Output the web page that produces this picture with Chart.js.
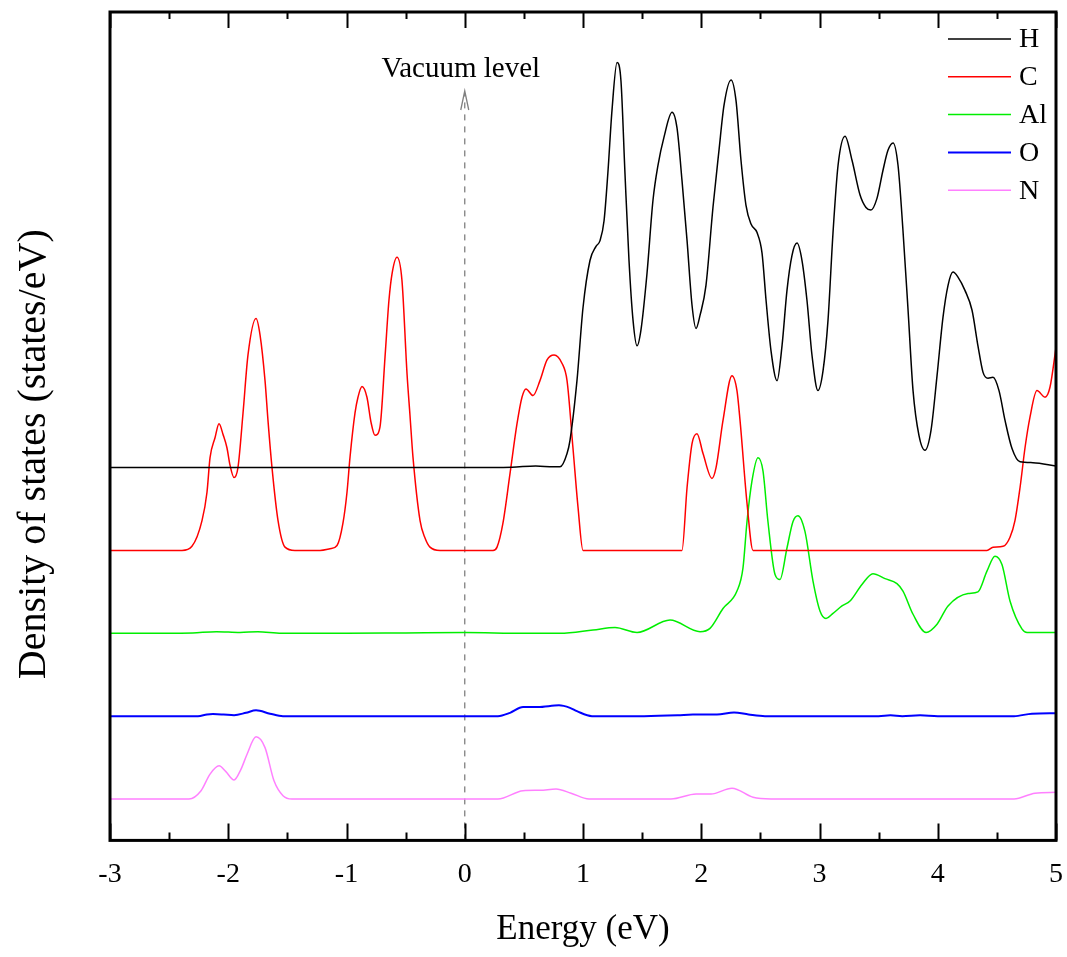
<!DOCTYPE html>
<html>
<head>
<meta charset="utf-8">
<script src="https://cdn.jsdelivr.net/npm/chart.js@4.4.1/dist/chart.umd.min.js"></script>
<style>
  html, body { margin: 0; padding: 0; background: #fff; }
</style>
</head>
<body>
<canvas id="dos" width="1067" height="957"></canvas>
<script>
// projected DOS per element, [energy (eV), states/eV]
const hDos = [[-3,0],[-2,0],[-1,0],[0,0],[0.4,0.005],[0.6,0.02],[0.75,0.01],[0.806,0.01],[0.865,0.17],[0.89,0.33],[0.949,1.05],[1.0,1.93],[1.059,2.5],[1.11,2.67],[1.144,2.74],[1.178,2.98],[1.21,3.55],[1.245,4.31],[1.288,4.89],[1.321,4.67],[1.355,3.55],[1.389,2.5],[1.423,1.78],[1.457,1.47],[1.49,1.66],[1.541,2.34],[1.592,3.23],[1.634,3.65],[1.685,3.99],[1.753,4.29],[1.795,4.1],[1.837,3.47],[1.88,2.74],[1.922,1.96],[1.956,1.68],[1.99,1.84],[2.04,2.2],[2.099,3.14],[2.15,3.83],[2.192,4.37],[2.252,4.68],[2.294,4.43],[2.336,3.71],[2.378,3.17],[2.421,2.94],[2.471,2.84],[2.514,2.59],[2.548,2.02],[2.59,1.41],[2.641,1.05],[2.683,1.47],[2.725,2.14],[2.767,2.56],[2.81,2.71],[2.852,2.5],[2.894,2.02],[2.937,1.35],[2.987,0.93],[3.03,1.17],[3.072,1.78],[3.114,2.83],[3.157,3.65],[3.216,4.0],[3.275,3.71],[3.343,3.29],[3.393,3.14],[3.435,3.11],[3.486,3.25],[3.537,3.59],[3.579,3.83],[3.622,3.92],[3.664,3.65],[3.706,2.86],[3.749,1.9],[3.791,0.93],[3.841,0.39],[3.892,0.21],[3.943,0.45],[3.994,1.11],[4.044,1.81],[4.087,2.2],[4.129,2.36],[4.171,2.3],[4.23,2.14],[4.29,1.9],[4.34,1.47],[4.383,1.15],[4.425,1.08],[4.467,1.09],[4.518,0.93],[4.569,0.57],[4.628,0.23],[4.696,0.07],[4.805,0.06],[5.0,0.02]];
const cDos = [[-3,0],[-2.391,0],[-2.307,0.05],[-2.222,0.36],[-2.18,0.7],[-2.154,1.12],[-2.112,1.36],[-2.078,1.53],[-2.044,1.4],[-2.011,1.24],[-1.985,1.03],[-1.951,0.88],[-1.918,1.0],[-1.875,1.66],[-1.833,2.36],[-1.765,2.8],[-1.731,2.6],[-1.689,2.05],[-1.664,1.57],[-1.63,1.0],[-1.579,0.36],[-1.52,0.04],[-1.436,0],[-1.224,0],[-1.14,0.02],[-1.08,0.06],[-1.03,0.33],[-0.996,0.7],[-0.97,1.13],[-0.928,1.66],[-0.903,1.85],[-0.869,1.98],[-0.827,1.85],[-0.793,1.55],[-0.759,1.39],[-0.717,1.49],[-0.674,2.34],[-0.641,3.02],[-0.615,3.34],[-0.573,3.54],[-0.531,3.26],[-0.488,2.13],[-0.463,1.63],[-0.438,1.13],[-0.378,0.36],[-0.336,0.15],[-0.294,0.04],[-0.209,0],[0.239,0],[0.273,0.04],[0.323,0.33],[0.383,0.93],[0.442,1.53],[0.484,1.85],[0.518,1.95],[0.577,1.87],[0.636,2.05],[0.696,2.3],[0.755,2.36],[0.822,2.26],[0.865,2.05],[0.915,1.24],[0.958,0.52],[1.0,0],[1.837,0],[1.88,0.76],[1.922,1.29],[1.964,1.41],[2.015,1.17],[2.091,0.87],[2.125,1.0],[2.184,1.57],[2.26,2.11],[2.302,1.93],[2.328,1.57],[2.387,0.57],[2.438,0],[4.416,0],[4.467,0.04],[4.552,0.05],[4.611,0.16],[4.653,0.36],[4.696,0.76],[4.738,1.24],[4.78,1.61],[4.839,1.93],[4.907,1.85],[4.949,1.97],[5.0,2.45]];
const alDos = [[-3,0],[-2.5,0],[-2.3,0.005],[-2.1,0.02],[-1.9,0.01],[-1.75,0.02],[-1.55,0],[-1,0],[-0.5,0.005],[0,0.01],[0.5,0],[0.806,0],[1.085,0.04],[1.271,0.07],[1.457,0.01],[1.736,0.16],[1.99,0.02],[2.074,0.06],[2.184,0.3],[2.302,0.51],[2.353,0.79],[2.387,1.35],[2.429,1.84],[2.48,2.12],[2.522,1.96],[2.564,1.35],[2.624,0.71],[2.666,0.65],[2.725,1.03],[2.776,1.35],[2.818,1.42],[2.877,1.23],[2.945,0.63],[3.004,0.27],[3.055,0.18],[3.114,0.24],[3.19,0.33],[3.258,0.39],[3.359,0.59],[3.452,0.72],[3.554,0.66],[3.655,0.6],[3.706,0.51],[3.791,0.23],[3.901,0.01],[3.994,0.11],[4.087,0.33],[4.256,0.48],[4.34,0.5],[4.416,0.75],[4.484,0.93],[4.543,0.83],[4.611,0.39],[4.713,0.05],[4.755,0.01],[5.0,0.01]];
const oDos = [[-3,0],[-2.256,0],[-2.18,0.02],[-2.129,0.025],[-2.04,0.02],[-1.951,0.012],[-1.85,0.04],[-1.765,0.07],[-1.647,0.03],[-1.537,0],[0.281,0],[0.383,0.04],[0.493,0.11],[0.619,0.11],[0.797,0.13],[0.89,0.1],[0.949,0.06],[1.076,0],[1.516,0],[1.8,0.01],[1.93,0.02],[2.133,0.02],[2.277,0.045],[2.4,0.02],[2.539,0],[3.5,0],[3.6,0.01],[3.7,0],[3.85,0.01],[4.0,0],[4.645,0],[4.797,0.03],[5.0,0.035]];
const nDos = [[-3,0],[-2.332,0],[-2.23,0.1],[-2.154,0.3],[-2.078,0.4],[-2.02,0.33],[-1.951,0.23],[-1.892,0.36],[-1.841,0.54],[-1.765,0.75],[-1.689,0.62],[-1.613,0.22],[-1.537,0.04],[-1.461,0],[0.281,0],[0.493,0.1],[0.636,0.105],[0.772,0.12],[0.899,0.07],[1.051,0],[1.744,0],[1.956,0.06],[2.082,0.06],[2.26,0.13],[2.438,0.02],[2.59,0],[4.645,0],[4.822,0.07],[5.0,0.08]];

const elements = ['H', 'C', 'Al', 'O', 'N'];
const offsets = [4, 3, 2, 1, 0]; // each curve is stacked one unit above the next
const colors = ['#000000', '#ff0000', '#00ee00', '#0000ff', '#ff80ff'];
const widths = [1.5, 1.5, 1.5, 2, 1.5];
const energyTicks = [-3, -2, -1, 0, 1, 2, 3, 4, 5];
const vacuumLevel = 0;
const yTitle = 'Density of states (states/eV)';

const serif = '"Liberation Serif", "Times New Roman", serif';

function shifted(rows, off) {
  return rows.map(r => ({ x: r[0], y: r[1] + off }));
}

const allDos = [hDos, cDos, alDos, oDos, nDos];
const datasets = elements.map((el, i) => ({
  label: el,
  data: shifted(allDos[i], offsets[i]),
  borderColor: colors[i],
  borderWidth: widths[i],
  pointRadius: 0,
  fill: false,
  cubicInterpolationMode: 'monotone'
}));

// frame, inward ticks, legend, y title and the vacuum level marker
const decorations = {
  id: 'decorations',
  beforeDatasetsDraw(chart) {
    const { ctx, chartArea, scales } = chart;
    const x0 = scales.x.getPixelForValue(vacuumLevel);
    ctx.save();
    ctx.strokeStyle = '#808080';
    ctx.lineWidth = 1.3;
    ctx.setLineDash([6, 6]);
    ctx.beginPath();
    ctx.moveTo(x0, chartArea.bottom);
    ctx.lineTo(x0, 94);
    ctx.stroke();
    ctx.setLineDash([]);
    ctx.beginPath();
    ctx.moveTo(x0 - 4, 110);
    ctx.lineTo(x0, 91);
    ctx.lineTo(x0 + 4, 110);
    ctx.stroke();
    ctx.fillStyle = '#000';
    ctx.font = '29px ' + serif;
    ctx.textAlign = 'center';
    ctx.textBaseline = 'alphabetic';
    ctx.fillText('Vacuum level', x0 - 4, 77);
    ctx.restore();
  },
  afterDraw(chart) {
    const { ctx, chartArea: a, scales } = chart;
    ctx.save();
    ctx.strokeStyle = '#000';
    ctx.lineWidth = 2;
    for (let v = energyTicks[0]; v <= energyTicks[energyTicks.length - 1] + 1e-9; v += 0.5) {
      const px = Math.round(scales.x.getPixelForValue(v)) + 0.5;
      const major = Number.isInteger(v);
      ctx.beginPath();
      ctx.moveTo(px, a.bottom);
      ctx.lineTo(px, a.bottom - (major ? 17 : 8));
      ctx.moveTo(px, a.top);
      ctx.lineTo(px, a.top + (major ? 16 : 7));
      ctx.stroke();
    }
    ctx.lineWidth = 3;
    ctx.strokeRect(a.left, a.top, a.right - a.left, a.bottom - a.top);

    // y title sits a little below the middle of the axis
    ctx.save();
    ctx.translate(34, (a.top + a.bottom) / 2 + 28);
    ctx.rotate(-Math.PI / 2);
    ctx.font = '40px ' + serif;
    ctx.fillStyle = '#000';
    ctx.textAlign = 'center';
    ctx.textBaseline = 'middle';
    ctx.fillText(yTitle, 0, 0);
    ctx.restore();

    // legend in the upper right corner
    ctx.font = '28px ' + serif;
    ctx.textAlign = 'left';
    ctx.textBaseline = 'middle';
    chart.data.datasets.forEach((ds, i) => {
      const y = a.top + 27 + i * 37.8;
      ctx.strokeStyle = ds.borderColor;
      ctx.lineWidth = ds.borderWidth;
      ctx.beginPath();
      ctx.moveTo(a.right - 108, y);
      ctx.lineTo(a.right - 45, y);
      ctx.stroke();
      ctx.fillStyle = '#000';
      ctx.fillText(ds.label, a.right - 37, y + 1);
    });
    ctx.restore();
  }
};

new Chart(document.getElementById('dos'), {
  type: 'line',
  data: { datasets: datasets },
  options: {
    responsive: false,
    animation: false,
    layout: { padding: { left: 110, top: 12, right: 11, bottom: 6 } },
    plugins: { legend: { display: false }, tooltip: { enabled: false } },
    scales: {
      x: {
        type: 'linear',
        min: -3,
        max: 5,
        // tick marks are drawn inward by the plugin; tickLength only spaces the labels
        grid: { display: false, drawTicks: true, tickLength: 17 },
        border: { display: false },
        afterBuildTicks: (scale) => { scale.ticks = energyTicks.map(v => ({ value: v })); },
        ticks: { padding: 0, color: '#000', font: { family: serif, size: 28 } },
        title: { display: true, text: 'Energy (eV)', color: '#000', font: { family: serif, size: 35 }, padding: { top: 18, bottom: 0 } }
      },
      y: {
        display: false,
        min: -0.5,
        max: 9.5
      }
    }
  },
  plugins: [decorations]
});
</script>
</body>
</html>
